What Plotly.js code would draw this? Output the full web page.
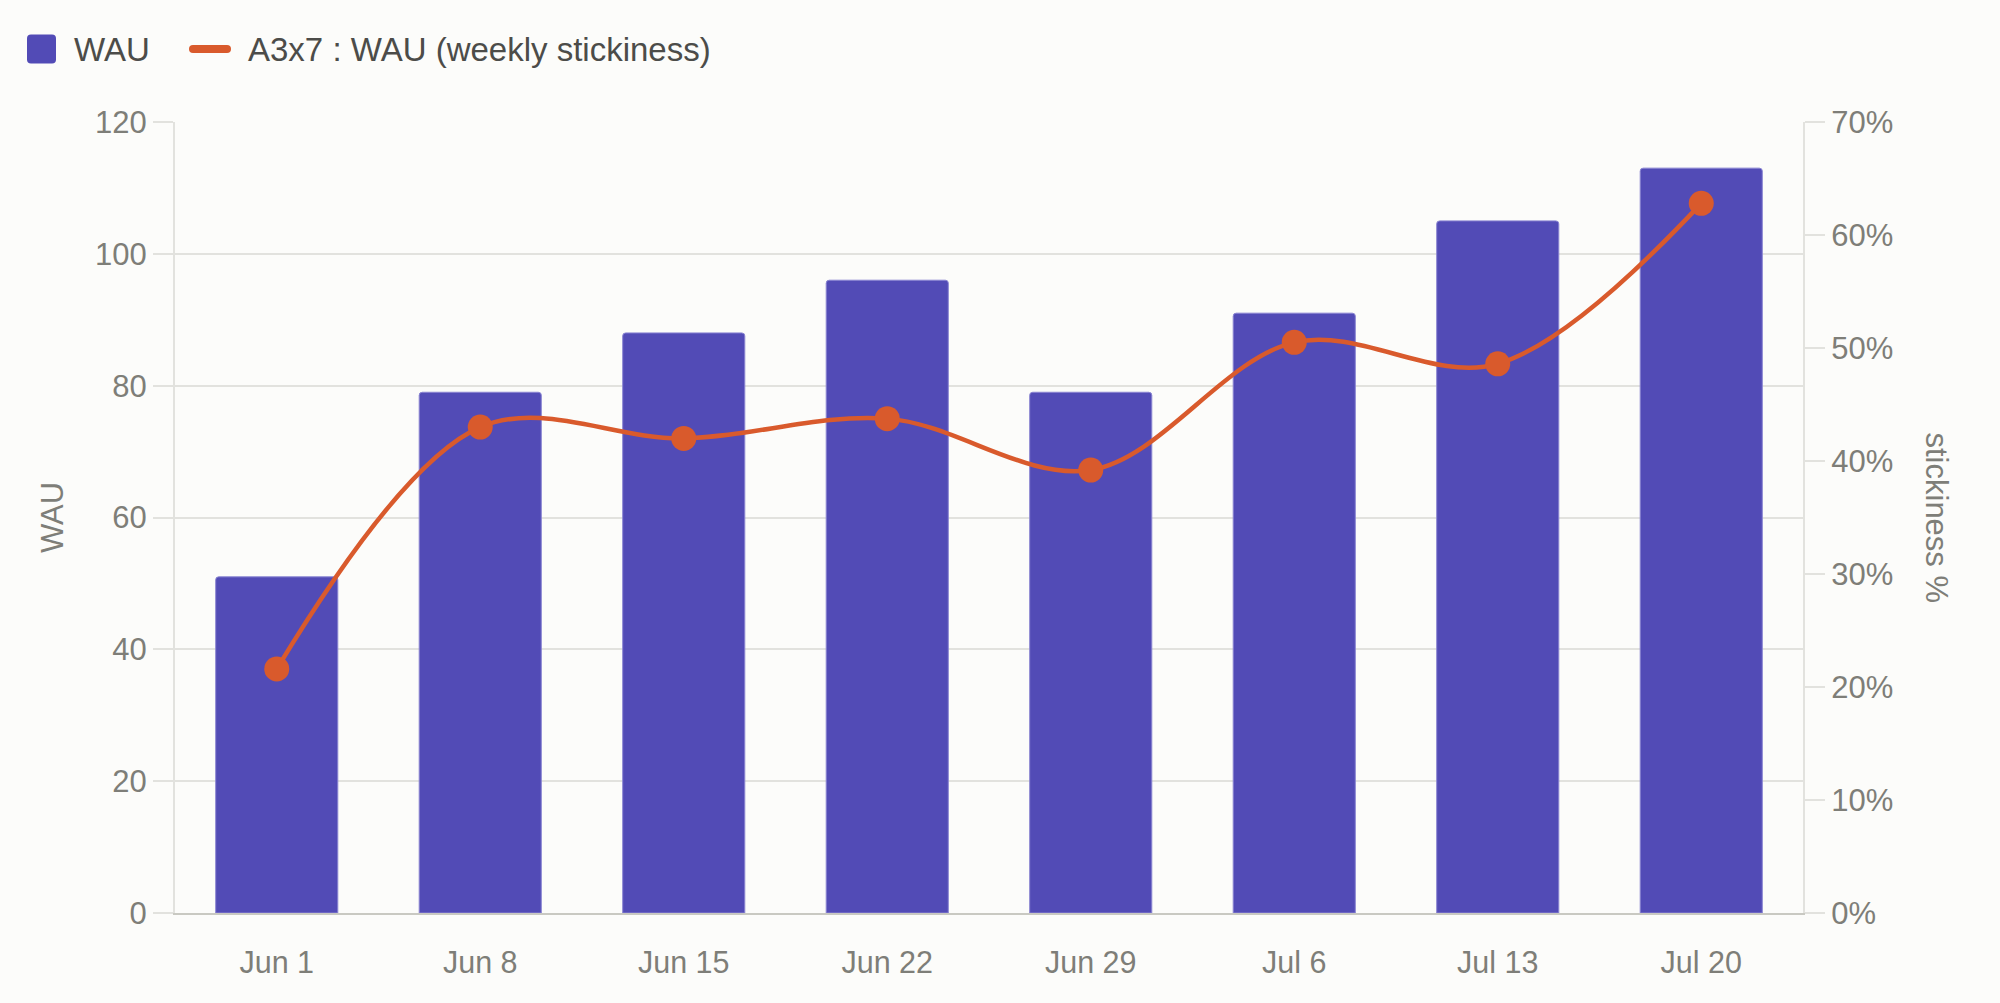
<!DOCTYPE html>
<html>
<head>
<meta charset="utf-8">
<script src="https://cdn.plot.ly/plotly-3.0.1.min.js"></script>
<style>
  html, body { margin: 0; padding: 0; background: #FCFCFA; }
  #chart { width: 2000px; height: 1003px; }
</style>
</head>
<body>
<div id="chart"></div>
<script>
const weeks = ["Jun 1", "Jun 8", "Jun 15", "Jun 22", "Jun 29", "Jul 6", "Jul 13", "Jul 20"];
const wau = [51, 79, 88, 96, 79, 91, 105, 113];
const stickiness = [0.216, 0.430, 0.420, 0.4375, 0.392, 0.505, 0.486, 0.628];
const wauTicks = [0, 20, 40, 60, 80, 100, 120];
const stickTicks = [0, 0.1, 0.2, 0.3, 0.4, 0.5, 0.6, 0.7];
const seriesNames = ["WAU", "A3x7 : WAU (weekly stickiness)"];

const barColor = "#524BB6";
const lineColor = "#D95A2C";
const gridColor = "#E2E2DE";
const tickText = "#7E7E78";
const legendText = "#4C4C49";
const font = "Liberation Sans, Arial, Helvetica, sans-serif";

// plot area in pixels (for placing the legend outside the plot)
const M = { l: 175, r: 197, t: 122, b: 90 };
const W = 2000, H = 1003;
const pw = W - M.l - M.r, ph = H - M.t - M.b;
const px = v => (v - M.l) / pw;
const py = v => (H - M.b - v) / ph;

const traces = [
  {
    type: "bar",
    name: seriesNames[0],
    x: weeks,
    y: wau,
    width: 0.6,
    marker: { color: barColor, line: { color: "#8A85D2", width: 1 }, cornerradius: 3 },
    showlegend: false,
    hoverinfo: "x+y"
  },
  {
    type: "scatter",
    mode: "lines",
    name: seriesNames[1],
    x: weeks,
    y: stickiness,
    yaxis: "y2",
    line: { color: lineColor, width: 4.5, shape: "spline", smoothing: 1 },
    showlegend: false,
    hoverinfo: "x+y"
  },
  {
    type: "scatter",
    mode: "markers",
    name: seriesNames[1],
    showlegend: false,
    x: weeks,
    y: stickiness,
    yaxis: "y2",
    marker: { color: lineColor, size: 25 },
    hoverinfo: "skip"
  }
];

const legendY = py(49);

const layout = {
  width: W,
  height: H,
  paper_bgcolor: "#FCFCFA",
  plot_bgcolor: "#FCFCFA",
  font: { family: font, size: 30, color: tickText },
  margin: { l: M.l, r: M.r, t: M.t, b: M.b, pad: 0 },
  showlegend: false,
  bargap: 0.4,
  xaxis: {
    type: "category",
    range: [-0.5, 7.5],
    showgrid: false,
    showline: true,
    linecolor: "#C9C9C2",
    linewidth: 2,
    ticks: "",
    ticklabelstandoff: 21,
    tickfont: { family: font, size: 30.5, color: tickText },
    zeroline: false,
    fixedrange: true
  },
  yaxis: {
    range: [0, 120],
    tickvals: wauTicks,
    showgrid: true,
    gridcolor: gridColor,
    gridwidth: 2,
    showline: true,
    linecolor: gridColor,
    linewidth: 2,
    ticks: "outside",
    ticklen: 20,
    tickwidth: 2,
    tickcolor: gridColor,
    ticklabelstandoff: 0,
    zeroline: false,
    tickfont: { family: font, size: 31, color: tickText },
    title: { text: "WAU", font: { family: font, size: 31, color: tickText }, standoff: 22 },
    fixedrange: true
  },
  yaxis2: {
    overlaying: "y",
    side: "right",
    range: [0, 0.7],
    tickvals: stickTicks,
    tickformat: ".0%",
    showgrid: false,
    showline: true,
    linecolor: gridColor,
    linewidth: 2,
    ticks: "outside",
    ticklen: 20,
    tickwidth: 2,
    tickcolor: gridColor,
    ticklabelstandoff: 0,
    zeroline: false,
    tickfont: { family: font, size: 31, color: tickText },
    fixedrange: true
  },
  shapes: [
    {
      type: "path", xref: "paper", yref: "paper",
      xsizemode: "pixel", ysizemode: "pixel",
      xanchor: px(41.5), yanchor: legendY,
      path: "M-10.5,-14.5 L10.5,-14.5 Q14.5,-14.5 14.5,-10.5 L14.5,10.5 Q14.5,14.5 10.5,14.5 L-10.5,14.5 Q-14.5,14.5 -14.5,10.5 L-14.5,-10.5 Q-14.5,-14.5 -10.5,-14.5 Z",
      fillcolor: barColor, line: { width: 0 }
    },
    {
      type: "path", xref: "paper", yref: "paper",
      xsizemode: "pixel", ysizemode: "pixel",
      xanchor: px(210), yanchor: legendY,
      path: "M-17,-4 L17,-4 Q21,-4 21,0 Q21,4 17,4 L-17,4 Q-21,4 -21,0 Q-21,-4 -17,-4 Z",
      fillcolor: lineColor, line: { width: 0 }
    }
  ],
  annotations: [
    {
      text: seriesNames[0],
      xref: "paper", yref: "paper",
      x: px(72), y: legendY,
      xanchor: "left", yanchor: "middle",
      showarrow: false,
      font: { family: font, size: 33, color: legendText }
    },
    {
      text: seriesNames[1],
      xref: "paper", yref: "paper",
      x: px(246), y: legendY,
      xanchor: "left", yanchor: "middle",
      showarrow: false,
      font: { family: font, size: 33, color: legendText }
    },
    {
      text: "stickiness %",
      xref: "paper", yref: "paper",
      x: 1.0817, y: 0.5,
      xanchor: "center", yanchor: "middle",
      textangle: 90,
      showarrow: false,
      font: { family: font, size: 31, color: tickText }
    }
  ]
};

Plotly.newPlot("chart", traces, layout, { displayModeBar: false });
</script>
</body>
</html>
